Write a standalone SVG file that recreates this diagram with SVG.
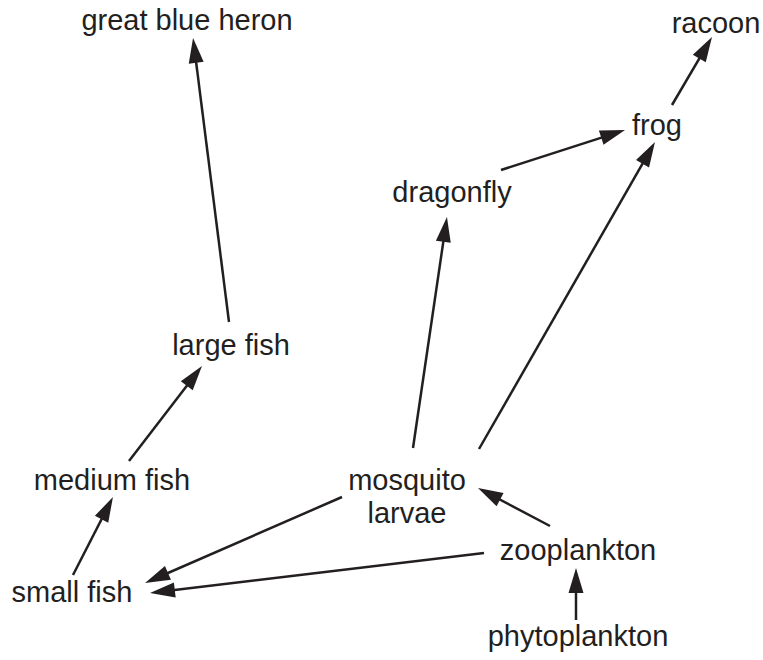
<svg xmlns="http://www.w3.org/2000/svg" width="763" height="660" viewBox="0 0 763 660">
<style>
.lbl{font-family:"Liberation Sans",Arial,Helvetica,sans-serif;font-size:29px;fill:#231f20;text-anchor:middle}
.edge{stroke:#231f20;stroke-width:2.5;fill:none;marker-end:url(#ah)}
</style>
<defs>
<marker id="ah" markerUnits="userSpaceOnUse" markerWidth="26" markerHeight="16" refX="15" refY="0" viewBox="0 -8 26 16" orient="auto" overflow="visible">
<path d="M0,-7.5 L25,0 L0,7.5 Z" fill="#231f20"/>
</marker>
</defs>
<rect width="763" height="660" fill="#ffffff"/>
<g id="connectors">
<line class="edge" x1="73" y1="575" x2="108.4" y2="505.9"/>
<line class="edge" x1="129" y1="461" x2="195.9" y2="373.9"/>
<line class="edge" x1="229" y1="322" x2="194.3" y2="47.9"/>
<line class="edge" x1="342" y1="497" x2="154.2" y2="579"/>
<line class="edge" x1="484" y1="553" x2="159.9" y2="591.8"/>
<line class="edge" x1="550" y1="526" x2="486.8" y2="492.7"/>
<line class="edge" x1="576" y1="620" x2="576" y2="578"/>
<line class="edge" x1="413" y1="448" x2="445.5" y2="226.9"/>
<line class="edge" x1="479" y1="449" x2="650" y2="150.7"/>
<line class="edge" x1="501" y1="170" x2="615.5" y2="133.1"/>
<line class="edge" x1="672" y1="105" x2="706.9" y2="45.6"/>
</g>
<g id="great-blue-heron"><text class="lbl" x="187" y="30">great blue heron</text></g>
<g id="racoon"><text class="lbl" x="716" y="33">racoon</text></g>
<g id="frog"><text class="lbl" x="657" y="135">frog</text></g>
<g id="dragonfly"><text class="lbl" x="452" y="202">dragonfly</text></g>
<g id="large-fish"><text class="lbl" x="231" y="355">large fish</text></g>
<g id="medium-fish"><text class="lbl" x="112" y="490">medium fish</text></g>
<g id="mosquito-larvae"><text class="lbl" x="407" y="490">mosquito</text><text class="lbl" x="407" y="523">larvae</text></g>
<g id="zooplankton"><text class="lbl" x="578" y="560">zooplankton</text></g>
<g id="small-fish"><text class="lbl" x="72" y="602">small fish</text></g>
<g id="phytoplankton"><text class="lbl" x="578" y="646">phytoplankton</text></g>
</svg>
